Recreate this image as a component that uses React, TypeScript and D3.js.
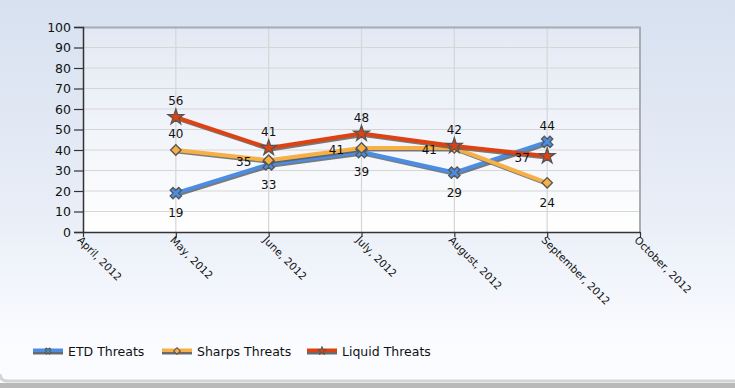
import React, { useRef, useEffect } from "react";
import * as d3 from "d3";

const months = ["April, 2012", "May, 2012", "June, 2012", "July, 2012", "August, 2012", "September, 2012", "October, 2012"];
const pointMonths = ["May, 2012", "June, 2012", "July, 2012", "August, 2012", "September, 2012"];

const etdValues = [19, 33, 39, 29, 44];
const sharpsValues = [40, 35, 41, 41, 24];
const liquidValues = [56, 41, 48, 42, 37];

const seriesNames = ["ETD Threats", "Sharps Threats", "Liquid Threats"];
const yTicks = [0, 10, 20, 30, 40, 50, 60, 70, 80, 90, 100];

// where each value label sits relative to its point
const etdLabelPos = ["below", "below", "below", "below", "above"];
const sharpsLabelPos = ["above", "left", "left", "left", "below"];
const liquidLabelPos = ["above", "above", "above", "above", "left"];

const W = 735;
const H = 388;
const FONT = "DejaVu Sans, sans-serif";

const App = () => {
  const svgRef = useRef<SVGSVGElement>(null);

  useEffect(() => {
    const svg = d3.select(svgRef.current);
    svg.selectAll("*").remove();

    const margin = { top: 27, left: 83, right: 95, bottom: 156 };
    const innerW = W - margin.left - margin.right;
    const innerH = H - margin.top - margin.bottom;

    const defs = svg.append("defs");
    const bg = defs.append("linearGradient").attr("id", "bg").attr("x1", 0).attr("y1", 0).attr("x2", 0).attr("y2", 1);
    bg.append("stop").attr("offset", "0%").attr("stop-color", "#d7e1f0");
    bg.append("stop").attr("offset", "55%").attr("stop-color", "#e9eef7");
    bg.append("stop").attr("offset", "90%").attr("stop-color", "#fbfcff");
    const pg = defs.append("linearGradient").attr("id", "pg").attr("x1", 0).attr("y1", 0).attr("x2", 0).attr("y2", 1);
    pg.append("stop").attr("offset", "0%").attr("stop-color", "#e3e9f4");
    pg.append("stop").attr("offset", "100%").attr("stop-color", "#ffffff");

    // background + bottom frame
    svg.append("rect").attr("width", W).attr("height", H).attr("fill", "url(#bg)");
    svg.append("path")
      .attr("d", `M0,${H - 14} Q0,${H - 7} 8,${H - 7} L${W},${H - 7}`)
      .attr("fill", "none").attr("stroke", "#d4d4d4").attr("stroke-width", 3);
    svg.append("rect").attr("x", 0).attr("y", H - 5).attr("width", W).attr("height", 5).attr("fill", "#b9b9b9");

    const x = d3.scalePoint().domain(months).range([0, innerW]);
    const y = d3.scaleLinear().domain([0, 100]).range([innerH, 0]);

    const g = svg.append("g").attr("transform", `translate(${margin.left},${margin.top})`);

    g.append("rect").attr("width", innerW).attr("height", innerH).attr("fill", "url(#pg)");

    // grid
    g.selectAll(".hgrid").data(yTicks.slice(1)).enter().append("line")
      .attr("x1", 0).attr("x2", innerW)
      .attr("y1", d => y(d)).attr("y2", d => y(d))
      .attr("stroke", "#d6d6d6").attr("stroke-width", 1.2);
    g.selectAll(".vgrid").data(months.slice(1, -1)).enter().append("line")
      .attr("x1", d => x(d)!).attr("x2", d => x(d)!)
      .attr("y1", 0).attr("y2", innerH)
      .attr("stroke", "#d6d6d6").attr("stroke-width", 1.2);

    // top/right border
    g.append("path").attr("d", `M0,0.5 L${innerW},0.5 L${innerW},${innerH}`)
      .attr("fill", "none").attr("stroke", "#a9adb3").attr("stroke-width", 2);

    // y axis
    const yAxis = g.append("g").call(d3.axisLeft(y).tickValues(yTicks).tickSize(9).tickPadding(3));
    yAxis.select(".domain").attr("stroke", "#333").attr("stroke-width", 1.5);
    yAxis.selectAll(".tick line").attr("stroke", "#333").attr("stroke-width", 1.2);
    yAxis.selectAll(".tick text").attr("font-family", FONT).attr("font-size", 12.5).attr("fill", "#111");

    // x axis
    const xAxis = g.append("g").attr("transform", `translate(0,${innerH})`)
      .call(d3.axisBottom(x).tickSize(5).tickSizeOuter(0));
    xAxis.select(".domain").attr("stroke", "#333").attr("stroke-width", 1.5);
    xAxis.selectAll(".tick line").attr("stroke", "#333").attr("stroke-width", 1.2);
    xAxis.selectAll(".tick text")
      .attr("font-family", FONT).attr("font-size", 10.5).attr("fill", "#111")
      .attr("text-anchor", "start")
      .attr("transform", "translate(0,2) rotate(45)")
      .attr("x", 0).attr("y", 6).attr("dy", "0.35em");

    const series = [
      { name: seriesNames[0], values: etdValues, labels: etdLabelPos, color: "#4a8de2", symbol: d3.symbolCross, size: 80, rot: 45 },
      { name: seriesNames[1], values: sharpsValues, labels: sharpsLabelPos, color: "#f7b045", symbol: d3.symbolSquare, size: 55, rot: 45 },
      { name: seriesNames[2], values: liquidValues, labels: liquidLabelPos, color: "#de4212", symbol: d3.symbolStar, size: 75, rot: 0 },
    ];

    const line = d3.line<number>()
      .x((_, i) => x(pointMonths[i])!)
      .y(d => y(d));

    series.forEach(s => {
      g.append("path").datum(s.values).attr("d", line)
        .attr("transform", "translate(1.5,1.5)")
        .attr("fill", "none").attr("stroke", "#5a5a5a").attr("stroke-opacity", 0.8)
        .attr("stroke-width", 4).attr("stroke-linejoin", "round");
      g.append("path").datum(s.values).attr("d", line)
        .attr("fill", "none").attr("stroke", s.color)
        .attr("stroke-width", 4).attr("stroke-linejoin", "round");
    });

    series.forEach(s => {
      const sym = d3.symbol().type(s.symbol).size(s.size);
      g.selectAll(null).data(s.values).enter().append("path")
        .attr("d", sym)
        .attr("transform", (d, i) => `translate(${x(pointMonths[i])},${y(d)}) rotate(${s.rot})`)
        .attr("fill", s.color).attr("stroke", "#555").attr("stroke-width", 1.3);
    });

    series.forEach(s => {
      g.selectAll(null).data(s.values).enter().append("text")
        .attr("x", (d, i) => x(pointMonths[i])! + (s.labels[i] === "left" ? -25 : 0))
        .attr("y", (d, i) => y(d) + (s.labels[i] === "above" ? -16 : s.labels[i] === "below" ? 20 : 2))
        .attr("dy", "0.35em")
        .attr("text-anchor", "middle")
        .attr("font-family", FONT).attr("font-size", 12).attr("fill", "#111")
        .text(d => d);
    });

    // legend
    const legendX = [33, 162, 307];
    const legend = svg.append("g").attr("transform", "translate(0,352)");
    series.forEach((s, i) => {
      const lg = legend.append("g").attr("transform", `translate(${legendX[i]},0)`);
      lg.append("rect").attr("x", 0).attr("y", -2.5).attr("width", 30).attr("height", 5).attr("fill", "#6a6a6a");
      lg.append("rect").attr("x", 0).attr("y", -3.5).attr("width", 30).attr("height", 3.5).attr("fill", s.color);
      lg.append("path").attr("d", d3.symbol().type(s.symbol).size(22))
        .attr("transform", `translate(15,-1) rotate(${s.rot})`)
        .attr("fill", s.color).attr("stroke", "#555").attr("stroke-width", 1);
      lg.append("text").attr("x", 35).attr("y", 0).attr("dy", "0.35em")
        .attr("font-family", FONT).attr("font-size", 12.5).attr("fill", "#111")
        .text(s.name);
    });
  }, []);

  return (
    <svg ref={svgRef} width={W} height={H} style={{ position: "absolute", left: 0, top: 0 }} />
  );
};

export default App;
